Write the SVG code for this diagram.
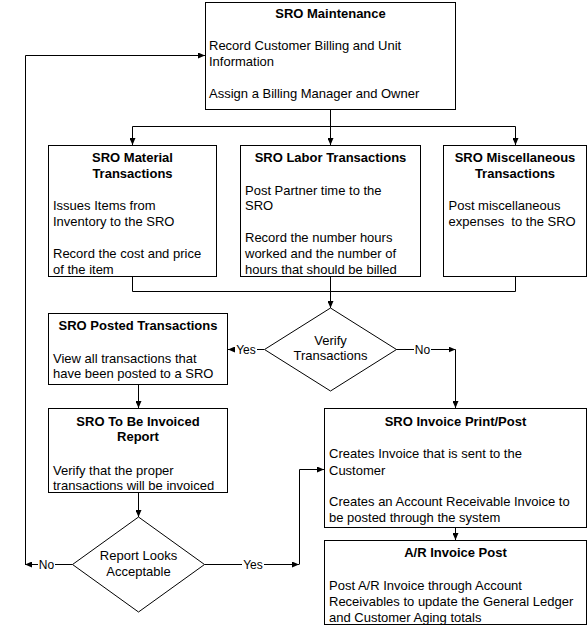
<svg xmlns="http://www.w3.org/2000/svg" width="588" height="643" viewBox="0 0 588 643">
<style>
.box{fill:#fff;stroke:#000;stroke-width:1}
.t{font-family:"Liberation Sans",Arial,sans-serif;font-size:13px;fill:#000}
.b{font-weight:bold;text-anchor:middle}
.c{text-anchor:middle}
.ln{fill:none;stroke:#000;stroke-width:1}
.lbl{font-family:"Liberation Sans",Arial,sans-serif;font-size:12px;fill:#000;text-anchor:middle}
</style>
<defs>
<marker id="ah" viewBox="0 0 7 6" refX="7" refY="3" markerWidth="7" markerHeight="6" markerUnits="userSpaceOnUse" orient="auto">
<path d="M0,0 L7,3 L0,6 z" fill="#000"/>
</marker>
</defs>
<rect width="588" height="643" fill="#fff"/>
<g id="connectors">
<path class="ln" d="M330.5 109.5 V126.5" stroke-width="2.5"/>
<path class="ln" d="M132.5 126.5 H515.5"/>
<path class="ln" d="M132.5 126.5 V145" marker-end="url(#ah)"/>
<path class="ln" d="M330.5 126.5 V145" marker-end="url(#ah)"/>
<path class="ln" d="M515.5 126.5 V145" marker-end="url(#ah)"/>
<path class="ln" d="M132.5 276.5 V291.5 H515.5 V276.5"/>
<path class="ln" d="M330.5 276.5 V308" marker-end="url(#ah)" stroke-width="1.5"/>
<path class="ln" d="M264 349.5 H228" marker-end="url(#ah)"/>
<path class="ln" d="M396 349.5 H455.5" marker-end="url(#ah)"/>
<path class="ln" d="M455.5 349.5 V408" marker-end="url(#ah)"/>
<path class="ln" d="M138.5 384.5 V408" marker-end="url(#ah)"/>
<path class="ln" d="M138.5 492.5 V517" marker-end="url(#ah)"/>
<path class="ln" d="M72.5 564.5 H25" marker-end="url(#ah)"/>
<path class="ln" d="M25.5 564.5 V55.5 H205" marker-end="url(#ah)"/>
<path class="ln" d="M204.5 564.5 H299" marker-end="url(#ah)"/>
<path class="ln" d="M299.5 564.5 V469.5 H324" marker-end="url(#ah)"/>
<path class="ln" d="M455.5 527.5 V540" marker-end="url(#ah)"/>
<g id="labels">
<rect x="235" y="342" width="22" height="14" fill="#fff"/>
<text class="lbl" x="246" y="353.5">Yes</text>
<rect x="414" y="342" width="17" height="14" fill="#fff"/>
<text class="lbl" x="422.5" y="353.5">No</text>
<rect x="38" y="558" width="17" height="14" fill="#fff"/>
<text class="lbl" x="46.5" y="568.5">No</text>
<rect x="242" y="558" width="22" height="14" fill="#fff"/>
<text class="lbl" x="253" y="568.5">Yes</text>
</g>
</g>
<g id="sro-maintenance">
<rect class="box" x="205.5" y="2.5" width="250" height="107"/>
<text class="t b" x="330.5" y="18">SRO Maintenance</text>
<text class="t" x="209" y="50">Record Customer Billing and Unit</text>
<text class="t" x="209" y="66">Information</text>
<text class="t" x="209" y="98">Assign a Billing Manager and Owner</text>
</g>
<g id="sro-material">
<rect class="box" x="48.5" y="145.5" width="168" height="131"/>
<text class="t b" x="132.5" y="162">SRO Material</text>
<text class="t b" x="132.5" y="178">Transactions</text>
<text class="t" x="53" y="209.5">Issues Items from</text>
<text class="t" x="53" y="226">Inventory to the SRO</text>
<text class="t" x="53" y="258">Record the cost and price</text>
<text class="t" x="53" y="273.5">of the item</text>
</g>
<g id="sro-labor">
<rect class="box" x="240.5" y="145.5" width="180" height="131"/>
<text class="t b" x="330.5" y="162">SRO Labor Transactions</text>
<text class="t" x="245" y="194.5">Post Partner time to the</text>
<text class="t" x="245" y="210">SRO</text>
<text class="t" x="245" y="242">Record the number hours</text>
<text class="t" x="245" y="258">worked and the number of</text>
<text class="t" x="245" y="273.5">hours that should be billed</text>
</g>
<g id="sro-misc">
<rect class="box" x="443.5" y="145.5" width="143" height="131"/>
<text class="t b" x="515" y="162">SRO Miscellaneous</text>
<text class="t b" x="515" y="178">Transactions</text>
<text class="t" x="448.5" y="210">Post miscellaneous</text>
<text class="t" x="448.5" y="226" xml:space="preserve">expenses  to the SRO</text>
</g>
<g id="verify-transactions">
<polygon class="box" points="330.5,308 396.5,349.5 330.5,391 264.5,349.5"/>
<text class="t c" x="330.5" y="344.5">Verify</text>
<text class="t c" x="330.5" y="360">Transactions</text>
</g>
<g id="sro-posted">
<rect class="box" x="48.5" y="313.5" width="179" height="71"/>
<text class="t b" x="138" y="329.5">SRO Posted Transactions</text>
<text class="t" x="53" y="362.5">View all transactions that</text>
<text class="t" x="53" y="378">have been posted to a SRO</text>
</g>
<g id="sro-to-be-invoiced">
<rect class="box" x="48.5" y="408.5" width="179" height="84"/>
<text class="t b" x="138" y="426">SRO To Be Invoiced</text>
<text class="t b" x="138" y="441">Report</text>
<text class="t" x="53" y="474.5">Verify that the proper</text>
<text class="t" x="53" y="489.5">transactions will be invoiced</text>
</g>
<g id="report-acceptable">
<polygon class="box" points="138.5,517 204.5,564.5 138.5,612 72.5,564.5"/>
<text class="t c" x="138.5" y="560">Report Looks</text>
<text class="t c" x="138.5" y="576">Acceptable</text>
</g>
<g id="sro-invoice-print">
<rect class="box" x="324.5" y="408.5" width="262" height="119"/>
<text class="t b" x="455.5" y="426">SRO Invoice Print/Post</text>
<text class="t" x="329" y="457.5">Creates Invoice that is sent to the</text>
<text class="t" x="329" y="474.5">Customer</text>
<text class="t" x="329" y="506">Creates an Account Receivable Invoice to</text>
<text class="t" x="329" y="522">be posted through the system</text>
</g>
<g id="ar-invoice-post">
<rect class="box" x="324.5" y="540.5" width="262" height="84"/>
<text class="t b" x="455.5" y="556.5">A/R Invoice Post</text>
<text class="t" x="329" y="589.5">Post A/R Invoice through Account</text>
<text class="t" x="329" y="606">Receivables to update the General Ledger</text>
<text class="t" x="329" y="622">and Customer Aging totals</text>
</g>
</svg>
